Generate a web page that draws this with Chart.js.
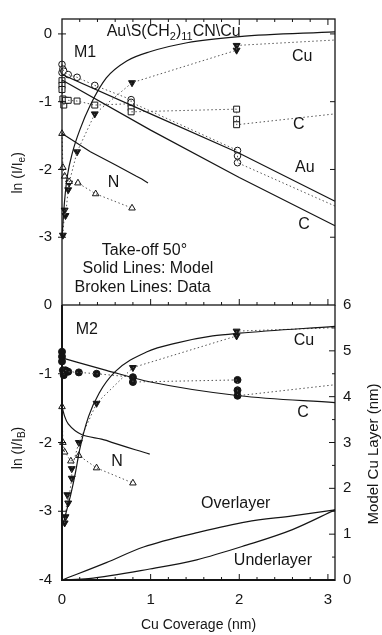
<!DOCTYPE html>
<html>
<head>
<meta charset="utf-8">
<script src="https://cdn.jsdelivr.net/npm/chart.js@4.4.1/dist/chart.umd.min.js"></script>
<style>
  html, body { margin: 0; padding: 0; background: #fff; }
  #wrap { position: relative; width: 382px; height: 635px; }
  #wrap canvas { position: absolute; left: 0; top: 0; }
</style>
</head>
<body>
<div id="wrap">
  <canvas id="topChart" width="382" height="635"></canvas>
  <canvas id="botChart" width="382" height="635"></canvas>
</div>
<script>
// ---- M1 panel ----
const m1CuModelX = [0, 0.03, 0.06, 0.12, 0.2, 0.32, 0.5, 0.73, 1.0, 1.41, 2.0, 3.08];
const m1CuModelY = [-3.0, -2.45, -2.1, -1.74, -1.42, -1.05, -0.65, -0.4, -0.26, -0.13, -0.04, 0.03];
const m1CuX = [0.01, 0.03, 0.04, 0.07, 0.08, 0.17, 0.37, 0.79, 1.97, 1.97];
const m1CuY = [-2.97, -2.6, -2.68, -2.3, -2.2, -1.74, -1.18, -0.72, -0.24, -0.17];
const m1CuTail = [3.08, -0.09];

const m1AuX = [0, 0, 0.01, 0.02, 0.07, 0.17, 0.37, 0.78, 0.78, 1.98, 1.98, 1.98];
const m1AuY = [-0.45, -0.57, -0.52, -0.55, -0.6, -0.64, -0.76, -0.97, -1.01, -1.72, -1.8, -1.9];
const m1AuTail = [3.08, -2.54];
const m1AuModelX = [0, 1, 2, 3.08];
const m1AuModelY = [-0.6, -1.18, -1.76, -2.47];

const m1CX = [0, 0, 0, 0.01, 0.02, 0.04, 0.07, 0.17, 0.37, 0.78, 0.78, 0.78, 1.97, 1.97, 1.97];
const m1CY = [-0.69, -0.76, -0.82, -0.96, -1.05, -0.98, -0.98, -0.99, -1.05, -1.03, -1.09, -1.15, -1.11, -1.26, -1.34];
const m1CTail = [3.08, -1.18];
const m1CModelX = [0, 1, 2, 3.08];
const m1CModelY = [-0.68, -1.42, -2.12, -2.83];

const m1NX = [0, 0.01, 0.03, 0.08, 0.18, 0.38, 0.79];
const m1NY = [-1.47, -1.97, -2.1, -2.18, -2.2, -2.36, -2.57];
const m1NModelX = [0, 0.32, 0.6, 0.84, 0.9, 0.97];
const m1NModelY = [-1.47, -1.74, -1.93, -2.1, -2.14, -2.2];

// ---- M2 panel ----
const m2CuModelX = [0.02, 0.06, 0.1, 0.15, 0.2, 0.3, 0.42, 0.6, 0.96, 1.3, 1.7, 2.0, 3.08];
const m2CuModelY = [-3.15, -2.95, -2.75, -2.45, -2.1, -1.62, -1.28, -0.97, -0.68, -0.55, -0.45, -0.41, -0.31];
const m2CuX = [0.03, 0.04, 0.06, 0.07, 0.11, 0.11, 0.19, 0.39, 0.8, 1.97, 1.97];
const m2CuY = [-3.17, -3.08, -2.76, -2.88, -2.52, -2.38, -2.0, -1.43, -0.91, -0.45, -0.38];
const m2CuTail = [3.08, -0.33];

const m2CX = [0, 0, 0, 0.01, 0.02, 0.04, 0.07, 0.19, 0.39, 0.8, 0.8, 1.98, 1.98, 1.98];
const m2CY = [-0.68, -0.75, -0.82, -0.95, -1.02, -0.95, -0.97, -0.98, -1.0, -1.05, -1.12, -1.09, -1.24, -1.32];
const m2CTail = [3.08, -1.16];
const m2CModelX = [0, 0.5, 1, 2, 3.08];
const m2CModelY = [-0.77, -0.95, -1.12, -1.32, -1.42];

const m2NX = [0, 0.01, 0.03, 0.1, 0.19, 0.39, 0.8];
const m2NY = [-1.48, -2.0, -2.14, -2.27, -2.19, -2.37, -2.59];
const m2NModelX = [0, 0.03, 0.07, 0.5, 0.99];
const m2NModelY = [-1.48, -1.62, -1.73, -1.97, -2.17];

// model Cu layer thickness (right axis, nm)
const overX = [0, 0.5, 0.92, 1.56, 2.08, 2.6, 3.08];
const overY = [0, 0.38, 0.72, 1.05, 1.27, 1.4, 1.53];
const underX = [0, 0.3, 0.99, 1.52, 2.08, 2.6, 3.08];
const underY = [0, 0.03, 0.24, 0.44, 0.76, 1.1, 1.53];

const xMax = 3.08;
const FONT = '"Liberation Sans", Arial, sans-serif';
const INK = '#151515';

Chart.defaults.font.family = FONT;
Chart.defaults.color = INK;

const pts = (xs, ys) => xs.map((x, i) => ({ x: x, y: ys[i] }));

function model(xs, ys, axis, smooth) {
  return {
    data: pts(xs, ys), yAxisID: axis || 'y', borderColor: INK, borderWidth: 1.2,
    pointRadius: 0, cubicInterpolationMode: smooth ? 'monotone' : 'default', tension: 0, clip: 4
  };
}
function dotted(xs, ys, tail) {
  const d = pts(xs, ys);
  if (tail) d.push({ x: tail[0], y: tail[1] });
  return { data: d, borderColor: '#555', borderWidth: 1, borderDash: [1.5, 2.5], pointRadius: 0, clip: 4 };
}
function marks(xs, ys, style, r, filled, rot) {
  return {
    data: pts(xs, ys), showLine: false, pointStyle: style, pointRadius: r, pointRotation: rot || 0,
    pointBackgroundColor: filled ? INK : '#fff', pointBorderColor: INK, pointBorderWidth: 1,
    pointHoverRadius: r, clip: 8
  };
}

// text with subscript parts: [[text, isSub], ...]
function richText(ctx, parts, x, y, size, rotate) {
  ctx.save();
  ctx.translate(x, y);
  if (rotate) ctx.rotate(-Math.PI / 2);
  ctx.textBaseline = 'middle';
  ctx.textAlign = 'left';
  ctx.fillStyle = INK;
  const font = sub => (sub ? Math.round(size * 0.7) : size) + 'px ' + FONT;
  let w = 0;
  parts.forEach(p => { ctx.font = font(p[1]); w += ctx.measureText(p[0]).width; });
  let cx = -w / 2;
  parts.forEach(p => {
    ctx.font = font(p[1]);
    ctx.fillText(p[0], cx, p[1] ? size * 0.32 : 0);
    cx += ctx.measureText(p[0]).width;
  });
  ctx.restore();
}

function line(ctx, x1, y1, x2, y2) { ctx.moveTo(x1, y1); ctx.lineTo(x2, y2); }

const minorX = [];
for (let i = 1; i <= 15; i++) if (i % 5) minorX.push(i / 5);
const majorX = [1, 2, 3];

// in-plot labels, placed in data units
const m1Labels = [['M1', 0.26, -0.28], ['Cu', 2.71, -0.33], ['C', 2.67, -1.34], ['Au', 2.74, -1.97],
  ['C', 2.73, -2.82], ['N', 0.58, -2.19], ['Take-off 50\u00b0', 0.93, -3.2],
  ['Solid Lines: Model', 0.97, -3.46], ['Broken Lines: Data', 0.91, -3.74]];
const m2Labels = [['M2', 0.28, -0.36], ['Cu', 2.73, -0.52], ['C', 2.72, -1.57], ['N', 0.62, -2.28],
  ['Overlayer', 1.96, -2.89], ['Underlayer', 2.38, -3.72]];

function drawLabels(chart, list) {
  const ctx = chart.ctx, xs = chart.scales.x, ys = chart.scales.y;
  ctx.save();
  ctx.font = '16px ' + FONT;
  ctx.fillStyle = INK;
  ctx.textAlign = 'center';
  ctx.textBaseline = 'middle';
  list.forEach(l => ctx.fillText(l[0], xs.getPixelForValue(l[1]), ys.getPixelForValue(l[2])));
  ctx.restore();
}

const topDecor = {
  id: 'topDecor',
  afterDraw(chart) {
    const ctx = chart.ctx, a = chart.chartArea, xs = chart.scales.x, ys = chart.scales.y;
    ctx.save();
    ctx.strokeStyle = INK;
    ctx.lineWidth = 1.3;
    ctx.strokeRect(a.left, a.top, a.right - a.left, a.bottom - a.top);
    ctx.lineWidth = 1;
    ctx.beginPath();
    minorX.forEach(v => { const p = xs.getPixelForValue(v); line(ctx, p, a.top, p, a.top + 3); line(ctx, p, a.bottom, p, a.bottom - 3); });
    majorX.forEach(v => { const p = xs.getPixelForValue(v); line(ctx, p, a.top, p, a.top + 6); line(ctx, p, a.bottom, p, a.bottom - 6); });
    [0, -1, -2, -3].forEach(v => { const p = ys.getPixelForValue(v); line(ctx, a.left - 4, p, a.left + 4, p); line(ctx, a.right, p, a.right - 5, p); });
    ctx.stroke();
    ctx.restore();
    drawLabels(chart, m1Labels);
    richText(ctx, [['Au\\S(CH', false], ['2', true], [')', false], ['11', true], ['CN\\Cu', false]],
      xs.getPixelForValue(1.26), ys.getPixelForValue(0.03), 16, false);
    richText(ctx, [['ln (I/I', false], ['e', true], [')', false]], 18, ys.getPixelForValue(-2.05), 14, true);
  }
};

const botDecor = {
  id: 'botDecor',
  afterDraw(chart) {
    const ctx = chart.ctx, a = chart.chartArea, xs = chart.scales.x, ys = chart.scales.y, yr = chart.scales.yR;
    ctx.save();
    ctx.strokeStyle = INK;
    ctx.lineWidth = 2;
    ctx.beginPath();
    line(ctx, a.left, a.top, a.left, a.bottom);
    line(ctx, a.left - 1, a.bottom, a.right, a.bottom);
    ctx.stroke();
    ctx.lineWidth = 1.3;
    ctx.beginPath();
    line(ctx, a.right, a.top, a.right, a.bottom + 1);
    ctx.stroke();
    ctx.lineWidth = 1;
    ctx.beginPath();
    minorX.forEach(v => { const p = xs.getPixelForValue(v); line(ctx, p, a.bottom, p, a.bottom - 3); });
    majorX.forEach(v => { const p = xs.getPixelForValue(v); line(ctx, p, a.bottom, p, a.bottom - 6); });
    [-1, -2, -3].forEach(v => { const p = ys.getPixelForValue(v); line(ctx, a.left - 4, p, a.left + 4, p); });
    [1, 2, 3, 4, 5].forEach(v => { const p = yr.getPixelForValue(v); line(ctx, a.right, p, a.right - 6, p); });
    [0.5, 1.5, 2.5, 3.5, 4.5, 5.5].forEach(v => { const p = yr.getPixelForValue(v); line(ctx, a.right, p, a.right - 3, p); });
    ctx.stroke();
    ctx.restore();
    drawLabels(chart, m2Labels);
    richText(ctx, [['ln (I/I', false], ['B', true], [')', false]], 18, ys.getPixelForValue(-2.08), 14, true);
    richText(ctx, [['Model Cu Layer (nm)', false]], 374, yr.getPixelForValue(2.75), 15, true);
  }
};

const noGrid = { display: false, drawTicks: false };

new Chart(document.getElementById('topChart'), {
  type: 'line',
  data: {
    datasets: [
      model(m1AuModelX, m1AuModelY),
      model(m1CModelX, m1CModelY),
      model(m1NModelX, m1NModelY),
      model(m1CuModelX, m1CuModelY, 'y', true),
      dotted(m1AuX, m1AuY, m1AuTail),
      dotted(m1CX, m1CY, m1CTail),
      dotted(m1NX, m1NY),
      dotted(m1CuX, m1CuY, m1CuTail),
      marks(m1AuX, m1AuY, 'circle', 3.3, false),
      marks(m1CX, m1CY, 'rect', 4.2, false),
      marks(m1NX, m1NY, 'triangle', 3.8, false),
      marks(m1CuX, m1CuY, 'triangle', 4, true, 180)
    ]
  },
  options: {
    responsive: false,
    animation: false,
    devicePixelRatio: 1,
    layout: { padding: { top: 16, right: 47, bottom: 330, left: 0 } },
    plugins: { legend: { display: false }, tooltip: { enabled: false } },
    scales: {
      x: { type: 'linear', min: 0, max: xMax, display: false },
      y: {
        min: -4, max: 0.22,
        afterFit: s => { s.width = 62; },
        grid: noGrid, border: { display: false },
        ticks: { stepSize: 1, includeBounds: false, padding: 10, font: { size: 15 },
          callback: v => (v <= -4 ? '' : String(v)) }
      }
    }
  },
  plugins: [topDecor]
});

new Chart(document.getElementById('botChart'), {
  type: 'line',
  data: {
    datasets: [
      model(m2CModelX, m2CModelY, 'y', true),
      model(m2NModelX, m2NModelY, 'y', true),
      model(m2CuModelX, m2CuModelY, 'y', true),
      model(overX, overY, 'yR', true),
      model(underX, underY, 'yR', true),
      dotted(m2CX, m2CY, m2CTail),
      dotted(m2NX, m2NY),
      dotted(m2CuX, m2CuY, m2CuTail),
      marks(m2CX, m2CY, 'circle', 3.5, true),
      marks(m2NX, m2NY, 'triangle', 3.8, false),
      marks(m2CuX, m2CuY, 'triangle', 4, true, 180)
    ]
  },
  options: {
    responsive: false,
    animation: false,
    devicePixelRatio: 1,
    layout: { padding: { top: 305, right: 0, bottom: 0, left: 0 } },
    plugins: { legend: { display: false }, tooltip: { enabled: false } },
    scales: {
      x: {
        type: 'linear', min: 0, max: xMax, position: 'bottom',
        afterFit: s => { s.height = 55; },
        grid: noGrid, border: { display: false },
        ticks: { stepSize: 1, includeBounds: false, padding: 11, maxRotation: 0, font: { size: 15 },
          callback: v => String(v) },
        title: { display: true, text: 'Cu Coverage (nm)', font: { size: 14 }, padding: { top: 0, bottom: 1 } }
      },
      y: {
        min: -4, max: 0,
        afterFit: s => { s.width = 62; },
        grid: noGrid, border: { display: false },
        ticks: { stepSize: 1, includeBounds: false, padding: 10, font: { size: 15 }, callback: v => String(v) }
      },
      yR: {
        position: 'right', min: 0, max: 6,
        afterFit: s => { s.width = 47; },
        grid: noGrid, border: { display: false },
        ticks: { stepSize: 1, includeBounds: false, padding: 8, font: { size: 15 }, callback: v => String(v) }
      }
    }
  },
  plugins: [botDecor]
});
</script>
</body>
</html>
